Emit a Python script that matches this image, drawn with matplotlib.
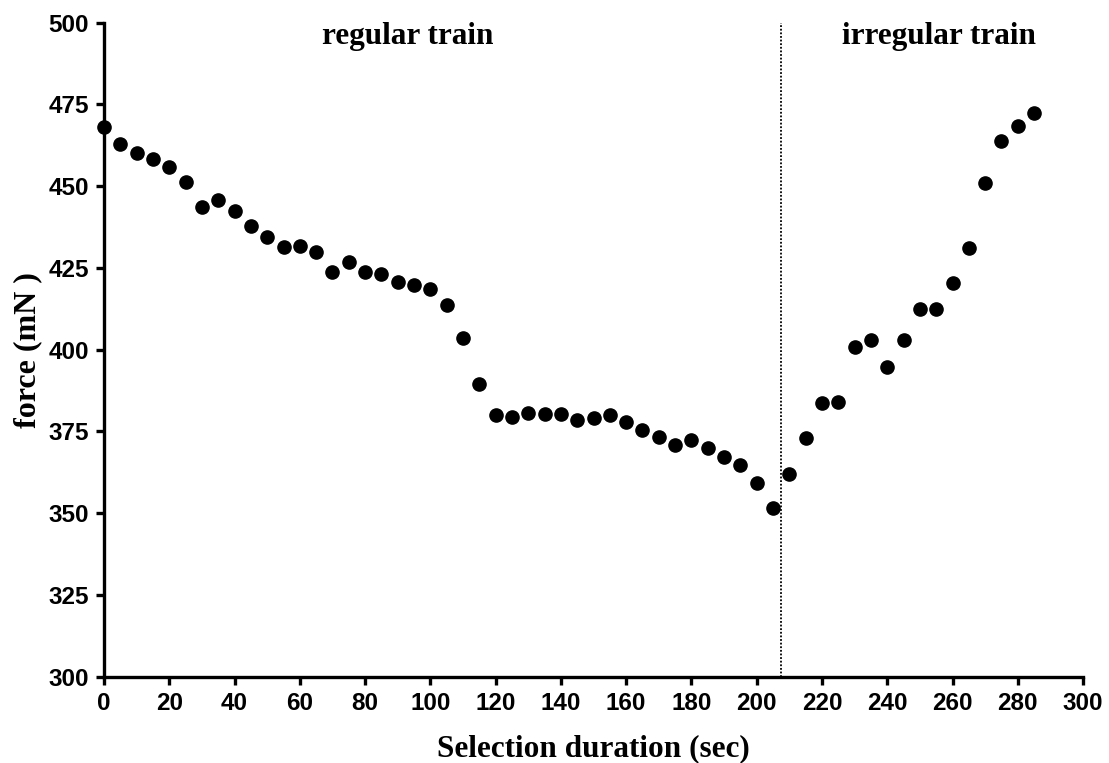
import matplotlib
matplotlib.use("Agg")
import matplotlib.pyplot as plt

duration = list(range(0, 290, 5))
force = [468.0, 462.9, 460.2, 458.2, 455.8, 451.4, 443.7, 445.8, 442.5, 437.9,
         434.4, 431.4, 431.8, 429.8, 423.7, 426.7, 423.7, 423.1, 420.8, 419.9,
         418.5, 413.7, 403.5, 389.4, 380.1, 379.4, 380.7, 380.4, 380.2, 378.4,
         379.1, 379.9, 377.9, 375.4, 373.2, 371.0, 372.3, 369.9, 367.1, 364.7,
         359.2, 351.7, 362.1, 373.0, 383.6, 383.9, 400.9, 403.0, 394.6, 402.9,
         412.4, 412.4, 420.4, 431.0, 450.9, 463.9, 468.5, 472.4]
boundary = 207.5
xticks = list(range(0, 301, 20))
yticks = list(range(300, 501, 25))

fig = plt.figure(figsize=(11.09, 7.63), dpi=100)
ax = fig.add_axes([0.0938, 0.1131, 0.8828, 0.8571])

ax.plot(duration, force, 'o', color='black', ms=9.5, clip_on=False, zorder=3)
ax.axvline(boundary, color='black', lw=1.3, ls=(0, (1, 1)))

ax.set_xlim(0, 300)
ax.set_ylim(300, 500)
ax.set_xticks(xticks)
ax.set_yticks(yticks)
for s in ['top', 'right']:
    ax.spines[s].set_visible(False)
for s in ['left', 'bottom']:
    ax.spines[s].set_linewidth(2.4)
ax.tick_params(direction='out', length=6, width=2.4, pad=5)
for lbl in ax.get_xticklabels() + ax.get_yticklabels():
    lbl.set_fontfamily('Liberation Sans')
    lbl.set_fontweight('bold')
    lbl.set_fontsize(17.5)

serif = dict(family='Liberation Serif', weight='bold')
ax.set_xlabel('Selection duration (sec)', fontsize=22.5, labelpad=14, **serif)
ax.set_ylabel('force (mN )', fontsize=23, labelpad=4, **serif)

ax.text(93, 493.5, 'regular train', ha='center', va='baseline', fontsize=22.5, **serif)
ax.text(256, 493.5, 'irregular train', ha='center', va='baseline', fontsize=22.5, **serif)

fig.savefig('out.png', dpi=100)
